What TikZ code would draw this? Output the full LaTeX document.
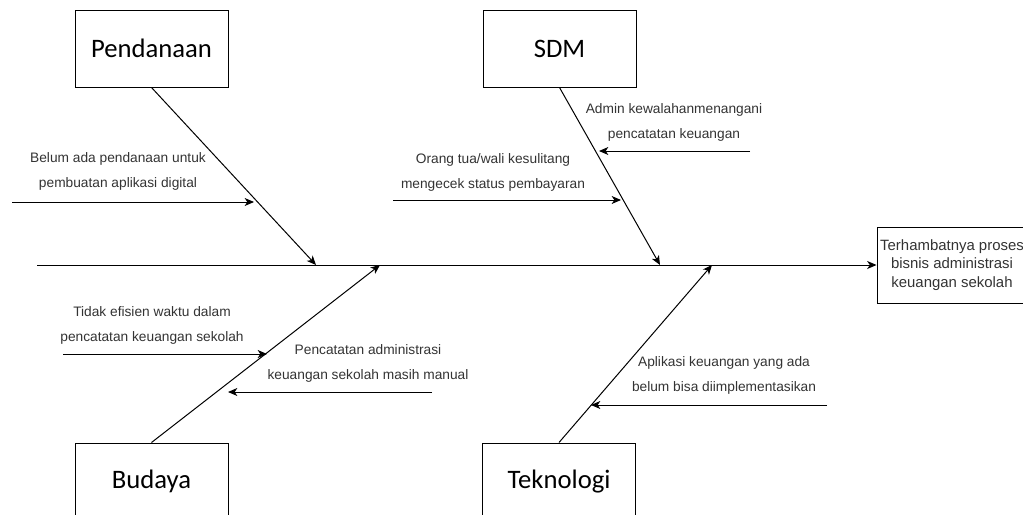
\documentclass[tikz,border=0pt]{standalone}
\usepackage{fontspec}
\setmainfont{Liberation Sans}
\newfontfamily\catfont{Carlito}
\usetikzlibrary{arrows.meta}
\definecolor{lbl}{HTML}{333333}
\begin{document}
\begin{tikzpicture}[x=0.75pt,y=-0.75pt,
  catbox/.style={draw,line width=0.75pt,minimum width=153*0.75pt,minimum height=77*0.75pt,inner sep=0pt,font=\catfont\fontsize{20}{24}\selectfont},
  resbox/.style={draw,line width=0.75pt,minimum width=150*0.75pt,minimum height=76*0.75pt,inner sep=0pt,align=center,font=\fontsize{11.2}{13.9}\selectfont,text=lbl},
  lab/.style={align=center,inner sep=0pt,text=lbl,font=\fontsize{10.3}{18.8}\selectfont},
  conn/.style={line width=0.75pt,-{Stealth[length=7pt,width=6pt,inset=2pt]}}]
\useasboundingbox (0,0) rectangle (1023,514);
% category boxes
\node[catbox] (pend) at (151.5,48.5) {Pendanaan};
\node[catbox] (sdm) at (559.5,48.5) {SDM};
\node[catbox] (bud) at (151.5,481.5) {Budaya};
\node[catbox] (tek) at (559,481.5) {Teknologi};
\node[resbox] (res) at (952,265) {Terhambatnya proses\\bisnis administrasi\\keuangan sekolah};
% spine
\coordinate (spineS) at (37,265);
\draw[conn] (spineS) -- (res.west);
% bones
\coordinate (pendE) at (316,265);
\coordinate (sdmE) at (660,265);
\coordinate (budE) at (380,265);
\coordinate (tekE) at (712,265);
\draw[conn] (pend.south) -- (pendE);
\draw[conn] (sdm.south) -- (sdmE);
\draw[conn] (bud.north) -- (budE);
\draw[conn] (tek.north) -- (tekE);
% sub causes
\coordinate (a1s) at (12,202); \coordinate (a1e) at (254,202);
\draw[conn] (a1s) -- (a1e);
\node[lab] (t1) at (118,171) {Belum ada pendanaan untuk\\pembuatan aplikasi digital};
\coordinate (a2s) at (393,200); \coordinate (a2e) at (621,200);
\draw[conn] (a2s) -- (a2e);
\node[lab] (t2) at (493,172) {Orang tua/wali kesulitang\\mengecek status pembayaran};
\coordinate (a3s) at (750,151); \coordinate (a3e) at (599,151);
\draw[conn] (a3s) -- (a3e);
\node[lab] (t3) at (674,122) {Admin kewalahanmenangani\\pencatatan keuangan};
\coordinate (a4s) at (63,354); \coordinate (a4e) at (267,354);
\draw[conn] (a4s) -- (a4e);
\node[lab] (t4) at (152,325) {Tidak efisien waktu dalam\\pencatatan keuangan sekolah};
\coordinate (a5s) at (432,392); \coordinate (a5e) at (228,392);
\draw[conn] (a5s) -- (a5e);
\node[lab] (t5) at (368,363.5) {Pencatatan administrasi\\keuangan sekolah masih manual};
\coordinate (a6s) at (827,405); \coordinate (a6e) at (591,405);
\draw[conn] (a6s) -- (a6e);
\node[lab] (t6) at (724,375.5) {Aplikasi keuangan yang ada\\belum bisa diimplementasikan};
\end{tikzpicture}
\end{document}
